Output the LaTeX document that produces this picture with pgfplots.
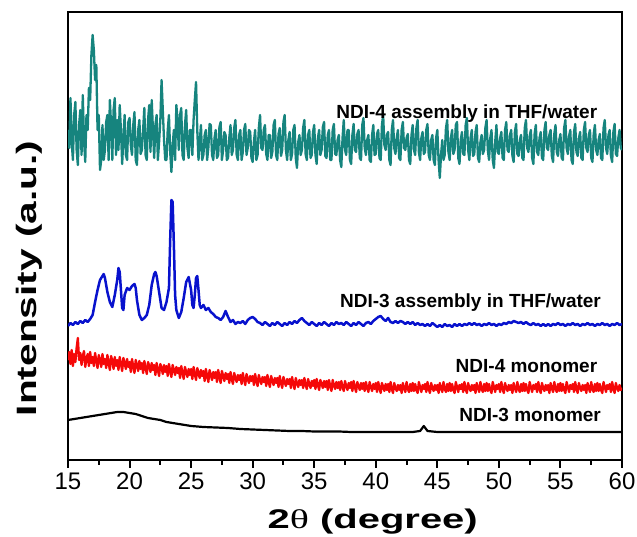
\documentclass[border=0pt]{standalone}
\usepackage{fontspec}
\setmainfont{Liberation Sans}
\newfontfamily\serifgreek{Liberation Serif}
\usepackage{graphicx}
\usepackage{pgfplots}
\pgfplotsset{compat=1.18}
\definecolor{xrdteal}{RGB}{22,132,126}
\definecolor{xrdblue}{RGB}{8,18,205}
\definecolor{xrdred}{RGB}{245,8,8}

\begin{document}
\begin{tikzpicture}
\begin{axis}[
    name=ax,
    width=554pt, height=448pt, scale only axis,
    xmin=15, xmax=60, ymin=0, ymax=448,
    axis line style={line width=2.6pt},
    xtick={15,20,...,60}, minor x tick num=1,
    ytick=\empty,
    xtick pos=bottom, tick align=outside,
    major tick length=8pt, minor tick length=5pt,
    every tick/.style={black, line width=2pt},
    /pgf/number format/assume math mode=true,
    ticklabel style={font=\fontsize{24}{26}\selectfont},
    xticklabel style={yshift=-1pt},
    xlabel={\scalebox{1.48}[1]{\bfseries 2{\serifgreek\mdseries θ} (degree)}},
    xlabel style={font=\fontsize{27}{29}\selectfont, at={(axis description cs:0.55,-0.138)}, anchor=center},
    ylabel={\scalebox{1.45}[1]{\bfseries Intensity (a.u.)}},
    ylabel style={font=\fontsize{28}{30}\selectfont, at={(axis description cs:-0.07,0.405)}, anchor=center},
    every axis plot/.append style={line join=round, line width=2.5pt},
]
% NDI-4 assembly
\addplot[xrdteal, line width=2.3pt] table[x expr=15+\coordindex/10, y index=0] {
330
312
362
318
300
345
358
310
295
335
350
305
365
320
298
345
330
372
360
405
425
410
380
395
330
345
290
300
335
300
310
338
345
300
360
335
300
350
362
305
340
310
355
330
296
322
345
305
300
338
342
315
305
335
348
300
295
330
340
306
310
330
352
305
300
340
355
308
360
330
302
335
345
300
318
340
380
350
320
300
300
330
345
308
288
315
330
300
355
340
310
345
352
305
300
335
350
312
302
330
330
305
340
360
378
330
300
318
335
300
305
325
330
300
312
336
335
305
300
322
330
302
305
333
338
300
310
328
325
300
302
322
335
305
310
332
340
305
300
325
330
300
308
330
336
305
312
330
328
302
298
318
330
300
305
332
345
312
310
330
335
306
300
325
325
302
308
335
340
305
300
326
332
304
310
338
345
310
300
320
328
300
306
330
335
302
292
318
325
305
310
332
340
306
300
325
330
302
305
328
335
305
296
322
330
305
310
333
338
304
302
325
330
300
300
330
336
306
305
320
325
300
293
322
340
310
305
330
330
300
296
325
336
310
308
326
330
302
300
335
342
312
305
320
325
300
298
325
335
305
306
326
330
302
300
335
345
315
310
325
328
300
295
330
340
312
306
322
330
302
300
330
338
312
310
322
326
300
296
325
335
310
305
332
340
308
300
322
328
306
308
330
336
305
300
320
325
300
295
322
330
300
282
305
320
300
305
332
340
308
300
322
330
306
310
335
338
302
296
320
328
306
305
335
342
310
300
322
330
304
306
328
335
302
298
318
325
306
310
332
340
310
300
322
330
300
292
318
335
308
306
322
328
302
300
330
338
310
308
325
330
304
298
328
336
306
304
320
325
302
300
332
340
312
308
324
330
302
296
326
335
308
305
322
328
302
300
330
338
312
310
325
330
304
298
326
335
308
304
320
326
302
300
332
340
312
306
324
330
300
296
328
336
308
304
322
328
302
300
330
338
312
308
325
330
302
298
326
335
310
305
320
326
302
300
332
340
312
306
325
330
304
298
328
336
306
304
322
330
312
310
};
% NDI-3 assembly
\addplot[xrdblue] coordinates {
(15.0,134)(15.2,137)(15.4,135)(15.6,138)(15.8,136)(16.0,139)(16.2,137)(16.4,140)(16.6,138)(16.8,141)
(17.0,145)(17.2,158)(17.4,170)(17.6,180)(17.8,184)(17.9,186)(18.0,182)(18.2,168)(18.4,158)(18.6,153)
(18.8,165)(19.0,180)(19.1,192)(19.2,188)(19.3,170)(19.4,152)(19.5,150)(19.6,165)(19.8,172)(20.0,170)
(20.2,174)(20.4,176)(20.5,172)(20.6,160)(20.8,145)(21.0,140)(21.2,142)(21.4,145)(21.6,155)(21.8,175)
(22.0,186)(22.1,188)(22.2,184)(22.4,168)(22.6,152)(22.8,150)(23.0,158)(23.2,172)(23.3,220)(23.4,260)
(23.5,258)(23.6,215)(23.7,165)(23.8,150)(24.0,142)(24.2,148)(24.4,162)(24.6,178)(24.8,183)(25.0,170)
(25.1,155)(25.2,152)(25.3,165)(25.4,182)(25.5,184)(25.6,170)(25.7,155)(25.8,152)(26.0,155)(26.2,150)
(26.4,152)(26.6,148)(26.8,146)(27.0,143)(27.2,142)(27.4,140)(27.6,143)(27.8,149)(28.0,143)(28.2,138)
(28.4,140)(28.6,136)(28.8,138)(29.0,137)(29.2,139)(29.4,136)(29.6,140)(29.8,142)(30.0,143)(30.2,141)
(30.4,138)(30.6,137)(30.8,135)(31.0,138)(31.2,136)(31.4,134)(31.6,137)(31.8,135)(32.0,138)(32.2,136)
(32.4,134)(32.6,137)(32.8,135)(33.0,138)(33.2,136)(33.4,139)(33.6,137)(33.8,140)(34.0,142)(34.2,139)
(34.4,137)(34.6,135)(34.8,138)(35.0,136)(35.2,134)(35.4,137)(35.6,135)(35.8,138)(36.0,136)(36.2,134)
(36.4,137)(36.6,135)(36.8,138)(37.0,136)(37.2,137)(37.4,135)(37.6,138)(37.8,136)(38.0,134)(38.2,137)
(38.4,135)(38.6,138)(38.8,136)(39.0,134)(39.2,137)(39.4,138)(39.6,136)(39.8,139)(40.0,141)(40.2,143)
(40.4,144)(40.6,141)(40.8,139)(41.0,142)(41.2,138)(41.4,137)(41.6,139)(41.8,137)(42.0,139)(42.2,138)
(42.4,136)(42.6,138)(42.8,136)(43.0,138)(43.2,135)(43.4,137)(43.6,135)(43.8,136)(44.0,134)(44.2,136)
(44.4,134)(44.6,137)(44.8,135)(45.0,133)(45.2,135)(45.4,133)(45.6,136)(45.8,134)(46.0,135)(46.2,133)
(46.4,136)(46.6,134)(46.8,136)(47.0,134)(47.2,136)(47.4,135)(47.6,137)(47.8,135)(48.0,137)(48.2,135)
(48.4,136)(48.6,134)(48.8,136)(49.0,135)(49.2,137)(49.4,135)(49.6,136)(49.8,134)(50.0,136)(50.2,135)
(50.4,137)(50.6,136)(50.8,138)(51.0,137)(51.2,139)(51.4,138)(51.6,137)(51.8,138)(52.0,136)(52.2,138)
(52.4,136)(52.6,135)(52.8,137)(53.0,135)(53.2,136)(53.4,134)(53.6,136)(53.8,134)(54.0,136)(54.2,134)
(54.4,136)(54.6,135)(54.8,137)(55.0,135)(55.2,136)(55.4,134)(55.6,136)(55.8,135)(56.0,137)(56.2,135)
(56.4,136)(56.6,134)(56.8,136)(57.0,135)(57.2,137)(57.4,135)(57.6,136)(57.8,134)(58.0,136)(58.2,135)
(58.4,137)(58.6,135)(58.8,136)(59.0,134)(59.2,136)(59.4,135)(59.6,137)(59.8,135)(60.0,136)
};
% NDI-4 monomer
\addplot[xrdred, line width=2.3pt] coordinates {
(15.0,100)(15.1,108)(15.2,96)(15.3,110)(15.4,94)(15.5,106)(15.6,98)(15.7,112)(15.8,122)(15.9,100)
(16.0,107)(16.1,95)(16.2,104)(16.3,109)(16.4,93)(16.5,101)(16.6,106)(16.7,94)(16.8,108)(16.9,97)
(17.0,103)(17.1,94)(17.2,107)(17.3,99)(17.4,92)(17.5,105)(17.6,100)(17.7,93)(17.8,106)(17.9,96)
(18.0,101)(18.1,92)(18.2,105)(18.3,97)(18.4,90)(18.5,104)(18.6,99)(18.7,91)(18.8,103)(18.9,94)
(19.0,100)(19.1,90)(19.2,103)(19.3,96)(19.4,89)(19.5,102)(19.6,97)(19.7,91)(19.8,101)(19.9,93)
(20.0,98)(20.1,88)(20.2,101)(20.3,93)(20.4,87)(20.5,100)(20.6,95)(20.7,89)(20.8,99)(20.9,91)
(21.0,97)(21.1,87)(21.2,99)(21.3,92)(21.4,86)(21.5,98)(21.6,94)(21.7,88)(21.8,97)(21.9,90)
(22.0,95)(22.1,85)(22.2,97)(22.3,90)(22.4,84)(22.5,96)(22.6,92)(22.7,86)(22.8,95)(22.9,88)
(23.0,94)(23.1,84)(23.2,96)(23.3,89)(23.4,83)(23.5,95)(23.6,90)(23.7,85)(23.8,93)(23.9,87)
(24.0,92)(24.1,82)(24.2,94)(24.3,87)(24.4,81)(24.5,93)(24.6,88)(24.7,83)(24.8,91)(24.9,85)
(25.0,91)(25.1,81)(25.2,93)(25.3,86)(25.4,80)(25.5,92)(25.6,87)(25.7,82)(25.8,90)(25.9,84)
(26.0,89)(26.1,79)(26.2,91)(26.3,84)(26.4,78)(26.5,90)(26.6,85)(26.7,80)(26.8,88)(26.9,82)
(27.0,88)(27.1,78)(27.2,90)(27.3,83)(27.4,77)(27.5,89)(27.6,84)(27.7,79)(27.8,87)(27.9,81)
(28.0,86)(28.1,77)(28.2,88)(28.3,81)(28.4,76)(28.5,87)(28.6,82)(28.7,78)(28.8,85)(28.9,80)
(29.0,85)(29.1,76)(29.2,87)(29.3,80)(29.4,75)(29.5,86)(29.6,81)(29.7,77)(29.8,84)(29.9,79)
(30.0,84)(30.1,75)(30.2,86)(30.3,79)(30.4,74)(30.5,85)(30.6,80)(30.7,76)(30.8,83)(30.9,78)
(31.0,83)(31.1,74)(31.2,85)(31.3,78)(31.4,73)(31.5,84)(31.6,79)(31.7,75)(31.8,82)(31.9,77)
(32.0,82)(32.1,73)(32.2,84)(32.3,77)(32.4,72)(32.5,83)(32.6,78)(32.7,74)(32.8,81)(32.9,76)
(33.0,81)(33.1,72)(33.2,83)(33.3,76)(33.4,71)(33.5,82)(33.6,77)(33.7,73)(33.8,80)(33.9,75)
(34.0,80)(34.1,72)(34.2,82)(34.3,75)(34.4,71)(34.5,81)(34.6,76)(34.7,72)(34.8,79)(34.9,74)
(35.0,80)(35.1,71)(35.2,81)(35.3,75)(35.4,70)(35.5,80)(35.6,76)(35.7,72)(35.8,79)(35.9,73)
(36.0,79)(36.1,70)(36.2,80)(36.3,74)(36.4,69)(36.5,80)(36.6,75)(36.7,71)(36.8,78)(36.9,72)
(37.0,78)(37.1,70)(37.2,79)(37.3,73)(37.4,69)(37.5,79)(37.6,74)(37.7,70)(37.8,77)(37.9,72)
(38.0,78)(38.1,69)(38.2,79)(38.3,73)(38.4,68)(38.5,78)(38.6,74)(38.7,70)(38.8,77)(38.9,71)
(39.0,77)(39.1,69)(39.2,78)(39.3,72)(39.4,68)(39.5,78)(39.6,73)(39.7,69)(39.8,76)(39.9,71)
(40.0,77)(40.1,68)(40.2,78)(40.3,72)(40.4,67)(40.5,77)(40.6,73)(40.7,69)(40.8,76)(40.9,70)
(41.0,76)(41.1,68)(41.2,78)(41.3,71)(41.4,67)(41.5,77)(41.6,72)(41.7,69)(41.8,75)(41.9,70)
(42.0,75)(42.1,67)(42.2,77)(42.3,72)(42.4,68)(42.5,78)(42.6,71)(42.7,68)(42.8,76)(42.9,69)
(43.0,77)(43.1,69)(43.2,76)(43.3,70)(43.4,67)(43.5,78)(43.6,73)(43.7,68)(43.8,75)(43.9,71)
(44.0,76)(44.1,68)(44.2,78)(44.3,71)(44.4,67)(44.5,77)(44.6,72)(44.7,69)(44.8,75)(44.9,70)
(45.0,75)(45.1,67)(45.2,77)(45.3,72)(45.4,68)(45.5,78)(45.6,71)(45.7,68)(45.8,76)(45.9,69)
(46.0,77)(46.1,69)(46.2,76)(46.3,70)(46.4,67)(46.5,78)(46.6,73)(46.7,68)(46.8,75)(46.9,71)
(47.0,76)(47.1,68)(47.2,78)(47.3,71)(47.4,67)(47.5,77)(47.6,72)(47.7,69)(47.8,75)(47.9,70)
(48.0,75)(48.1,67)(48.2,77)(48.3,72)(48.4,68)(48.5,78)(48.6,71)(48.7,68)(48.8,76)(48.9,69)
(49.0,77)(49.1,69)(49.2,76)(49.3,70)(49.4,67)(49.5,78)(49.6,73)(49.7,68)(49.8,75)(49.9,71)
(50.0,76)(50.1,68)(50.2,78)(50.3,71)(50.4,67)(50.5,77)(50.6,72)(50.7,69)(50.8,75)(50.9,70)
(51.0,75)(51.1,67)(51.2,77)(51.3,72)(51.4,68)(51.5,78)(51.6,71)(51.7,68)(51.8,76)(51.9,69)
(52.0,77)(52.1,69)(52.2,76)(52.3,70)(52.4,67)(52.5,78)(52.6,73)(52.7,68)(52.8,75)(52.9,71)
(53.0,76)(53.1,68)(53.2,78)(53.3,71)(53.4,67)(53.5,77)(53.6,72)(53.7,69)(53.8,75)(53.9,70)
(54.0,75)(54.1,67)(54.2,77)(54.3,72)(54.4,68)(54.5,78)(54.6,71)(54.7,68)(54.8,76)(54.9,69)
(55.0,77)(55.1,69)(55.2,76)(55.3,70)(55.4,67)(55.5,78)(55.6,73)(55.7,68)(55.8,75)(55.9,71)
(56.0,76)(56.1,68)(56.2,78)(56.3,71)(56.4,67)(56.5,77)(56.6,72)(56.7,69)(56.8,75)(56.9,70)
(57.0,75)(57.1,67)(57.2,77)(57.3,72)(57.4,68)(57.5,78)(57.6,71)(57.7,68)(57.8,76)(57.9,69)
(58.0,77)(58.1,69)(58.2,76)(58.3,70)(58.4,67)(58.5,78)(58.6,73)(58.7,68)(58.8,75)(58.9,71)
(59.0,76)(59.1,68)(59.2,78)(59.3,71)(59.4,67)(59.5,77)(59.6,72)(59.7,69)(59.8,75)(59.9,70)
(60.0,72)
};
% NDI-3 monomer
\addplot[black, line width=2.2pt] coordinates {
(15.0,40)(15.5,41)(16.0,42)(16.5,43)(17.0,44)(17.5,45)(18.0,46)(18.5,47)(19.0,48)(19.5,48)
(20.0,47)(20.5,46)(21.0,44)(21.5,42)(22.0,41)(22.5,40)(23.0,38)(23.5,37)(24.0,36)(24.5,35)
(25.0,34)(26.0,33)(27.0,32.5)(28.0,32)(29.0,31)(30.0,30.5)(31.0,30)(32.0,29.5)(33.0,29)(34.0,29)
(35.0,28.5)(36.0,28.5)(37.0,28.5)(38.0,28)(39.0,28)(40.0,28)(41.0,28)(42.0,28)(43.0,28)(43.6,29)
(43.9,34)(44.2,29)(44.6,28.5)(45.0,28)(46.0,28)(47.0,28)(48.0,28)(49.0,28)(50.0,28)(51.0,28)
(52.0,28)(53.0,28)(54.0,28)(55.0,28)(56.0,28)(57.0,28)(58.0,28)(59.0,28)(60.0,28)
};
\node[anchor=base east, inner sep=0pt, font=\bfseries\fontsize{19}{21}\selectfont] at (axis cs:58.0,341) {NDI-4 assembly in THF/water};
\node[anchor=base east, inner sep=0pt, font=\bfseries\fontsize{19}{21}\selectfont] at (axis cs:58.3,152) {NDI-3 assembly in THF/water};
\node[anchor=base east, inner sep=0pt, font=\bfseries\fontsize{19}{21}\selectfont] at (axis cs:58.0,87) {NDI-4 monomer};
\node[anchor=base east, inner sep=0pt, font=\bfseries\fontsize{19}{21}\selectfont] at (axis cs:58.3,38) {NDI-3 monomer};
\end{axis}
\pgfresetboundingbox
\path[use as bounding box] ([shift={(-68pt,-77pt)}]ax.south west) rectangle ([shift={(15pt,12pt)}]ax.north east);
\end{tikzpicture}
\end{document}
